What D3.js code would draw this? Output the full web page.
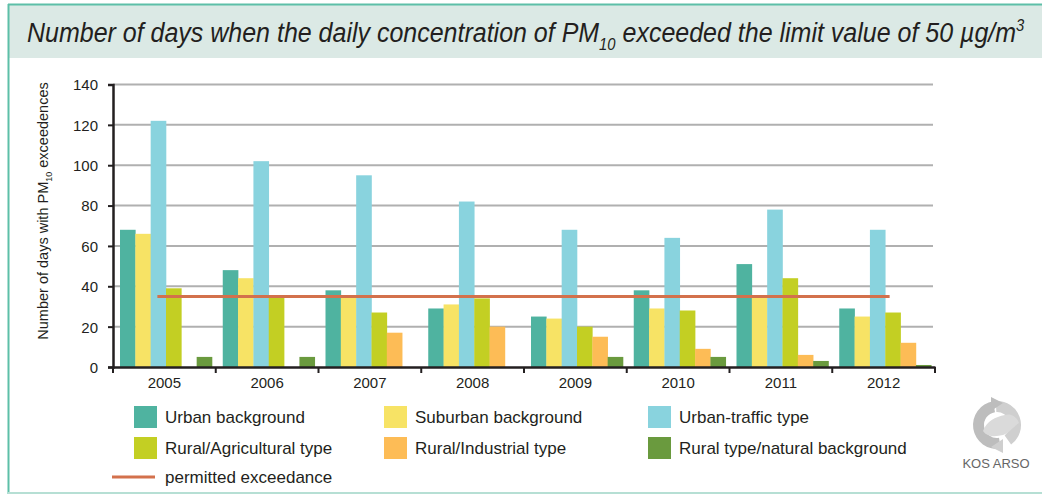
<!DOCTYPE html>
<html>
<head>
<meta charset="utf-8">
<script src="https://cdn.jsdelivr.net/npm/d3@7"></script>
<style>
	body { margin: 0; background: #fff; }
	svg { display: block; font-family: "Liberation Sans", Arial, sans-serif; }
</style>
</head>
<body>
<svg id="visual" width="1042" height="494"></svg>
<script>
// chart data
var years = ["2005", "2006", "2007", "2008", "2009", "2010", "2011", "2012"];
var seriesNames = ["Urban background", "Suburban background", "Urban-traffic type",
	"Rural/Agricultural type", "Rural/Industrial type", "Rural type/natural background"];
var seriesColors = ["#4fb3a0", "#f7e365", "#89d3de", "#c3cf23", "#fdbc56", "#6a9a3e"];
var urbanBackground = [68, 48, 38, 29, 25, 38, 51, 29];
var suburbanBackground = [66, 44, 35, 31, 24, 29, 35, 25];
var urbanTraffic = [122, 102, 95, 82, 68, 64, 78, 68];
var ruralAgricultural = [39, 35, 27, 34, 20, 28, 44, 27];
var ruralIndustrial = [0, 0, 17, 20, 15, 9, 6, 12];
var ruralNatural = [5, 5, 0, 0, 5, 5, 3, 1];
var permittedExceedance = 35;
var yTicks = [0, 20, 40, 60, 80, 100, 120, 140];

var series = [urbanBackground, suburbanBackground, urbanTraffic,
	ruralAgricultural, ruralIndustrial, ruralNatural];

var svg = d3.select("#visual");

// frame and title band
svg.append("rect")
	.attr("x", 9).attr("y", 5)
	.attr("width", 1033).attr("height", 53)
	.style("fill", "#dbe9e5");
svg.append("line")
	.attr("x1", 8).attr("x2", 1042).attr("y1", 4.5).attr("y2", 4.5)
	.style("stroke", "#5dbfa8").style("stroke-width", 2);
svg.append("line")
	.attr("x1", 8.5).attr("x2", 8.5).attr("y1", 4).attr("y2", 494)
	.style("stroke", "#5dbfa8").style("stroke-width", 2);
svg.append("line")
	.attr("x1", 8).attr("x2", 1042).attr("y1", 493).attr("y2", 493)
	.style("stroke", "#b6dfd4").style("stroke-width", 2);

var title = svg.append("text")
	.style("font-size", "27px")
	.style("font-style", "italic")
	.style("fill", "#231f20");
title.append("tspan").text("Number of days when the daily concentration of PM");
title.append("tspan").attr("dy", 8).style("font-size", "16px").text("10");
title.append("tspan").attr("dy", -8).text(" exceeded the limit value of 50 µg/m");
title.append("tspan").attr("dy", -11).style("font-size", "16px").text("3");
var titleLen = title.node().getComputedTextLength();
title.attr("transform", "translate(27,42) scale(" + (998 / titleLen) + ",1)");

// scales
var x0 = d3.scaleBand()
	.domain(years)
	.range([113, 935]);
var x1 = d3.scaleBand()
	.domain(d3.range(series.length))
	.range([7, 99]);
var y = d3.scaleLinear()
	.domain([0, 140])
	.range([367, 84.5]);

// gridlines
svg.append("g")
	.selectAll("line")
	.data(yTicks.filter(function(d) { return d > 0; }))
	.enter()
	.append("line")
	.attr("x1", 113).attr("x2", 933)
	.attr("y1", function(d) { return y(d); })
	.attr("y2", function(d) { return y(d); })
	.style("stroke", "#b0b0b0")
	.style("stroke-width", 2);

// bars
var groups = svg.append("g")
	.selectAll("g")
	.data(years)
	.enter()
	.append("g")
	.attr("transform", function(d) { return "translate(" + x0(d) + ",0)"; });

groups.selectAll("rect")
	.data(function(d, i) {
		return series.map(function(s, k) { return { k: k, value: s[i] }; });
	})
	.enter()
	.append("rect")
	.attr("x", function(d) { return x1(d.k); })
	.attr("y", function(d) { return y(d.value); })
	.attr("width", x1.bandwidth() + 0.3)
	.attr("height", function(d) { return y(0) - y(d.value); })
	.style("fill", function(d) { return seriesColors[d.k]; });

// permitted exceedance line
svg.append("line")
	.attr("x1", x0(years[0]) + x0.bandwidth() / 2 - 7)
	.attr("x2", x0(years[years.length - 1]) + x0.bandwidth() / 2 + 6)
	.attr("y1", y(permittedExceedance))
	.attr("y2", y(permittedExceedance))
	.style("stroke", "#d3714c")
	.style("stroke-width", 3);

// axes
var yAxis = svg.append("g")
	.attr("transform", "translate(113,0)")
	.call(d3.axisLeft(y).tickValues(yTicks).tickSize(5).tickPadding(10));
var xAxis = svg.append("g")
	.attr("transform", "translate(0,367)")
	.call(d3.axisBottom(x0).tickSize(0).tickPadding(10));

xAxis.selectAll(".tick")
	.append("line")
	.attr("x1", -x0.bandwidth() / 2).attr("x2", -x0.bandwidth() / 2)
	.attr("y1", 0).attr("y2", 6);
xAxis.append("line")
	.attr("x1", 935).attr("x2", 935).attr("y1", 0).attr("y2", 6);

[xAxis, yAxis].forEach(function(a) {
	a.select(".domain").style("stroke", "#231f20").style("stroke-width", 2.5);
	a.selectAll("line").style("stroke", "#231f20").style("stroke-width", 2);
	a.selectAll("text")
		.style("font-size", "15px")
		.style("font-family", "\"Liberation Sans\", Arial, sans-serif")
		.style("fill", "#231f20");
});
yAxis.selectAll("text").attr("dy", "0.36em");

var yTitle = svg.append("text")
	.attr("transform", "translate(48,211) rotate(-90)")
	.attr("text-anchor", "middle")
	.style("font-size", "14.5px")
	.style("fill", "#231f20");
yTitle.append("tspan").text("Number of days with  PM");
yTitle.append("tspan").attr("dy", 4).style("font-size", "9px").text("10");
yTitle.append("tspan").attr("dy", -4).text(" exceedences");

// legend
var legendCols = [134, 384, 648];
var legendRows = [406, 437];
var legend = svg.append("g")
	.selectAll("g")
	.data(seriesNames)
	.enter()
	.append("g")
	.attr("transform", function(d, i) {
		return "translate(" + legendCols[i % 3] + "," + legendRows[Math.floor(i / 3)] + ")";
	});
legend.append("rect")
	.attr("width", 23).attr("height", 22)
	.style("fill", function(d, i) { return seriesColors[i]; });
legend.append("text")
	.attr("x", 31).attr("y", 17)
	.style("font-size", "17px")
	.style("fill", "#231f20")
	.text(function(d) { return d; });

svg.append("line")
	.attr("x1", 112).attr("x2", 155).attr("y1", 477).attr("y2", 477)
	.style("stroke", "#d3714c").style("stroke-width", 3);
svg.append("text")
	.attr("x", 165).attr("y", 483)
	.style("font-size", "17px")
	.style("fill", "#231f20")
	.text("permitted exceedance");

// KOS ARSO logo
var logo = svg.append("g").attr("transform", "translate(997,425)");
var ring = d3.arc().innerRadius(13).outerRadius(24);
logo.append("path")
	.attr("d", ring({ startAngle: Math.PI * 0.95, endAngle: Math.PI * 1.95 }))
	.style("fill", "#bdbdbd");
logo.append("path")
	.attr("d", ring({ startAngle: -0.05, endAngle: Math.PI * 0.8 }))
	.style("fill", "#cfcfcf");
logo.append("path")
	.attr("d", "M-6,-28 L6,-22 L-6,-14 Z")
	.style("fill", "#bdbdbd");
logo.append("path")
	.attr("d", "M6,28 L-6,22 L6,14 Z")
	.style("fill", "#cfcfcf");
logo.append("path")
	.attr("d", "M-14,6 C-10,-4 -2,-8 8,-10 C14,-12 20,-8 22,-2 C16,2 12,8 6,10 C-2,12 -10,12 -14,6 Z")
	.style("fill", "#dadada");
svg.append("text")
	.attr("x", 996).attr("y", 468)
	.attr("text-anchor", "middle")
	.style("font-size", "13px")
	.style("fill", "#666")
	.text("KOS ARSO");
</script>
</body>
</html>
